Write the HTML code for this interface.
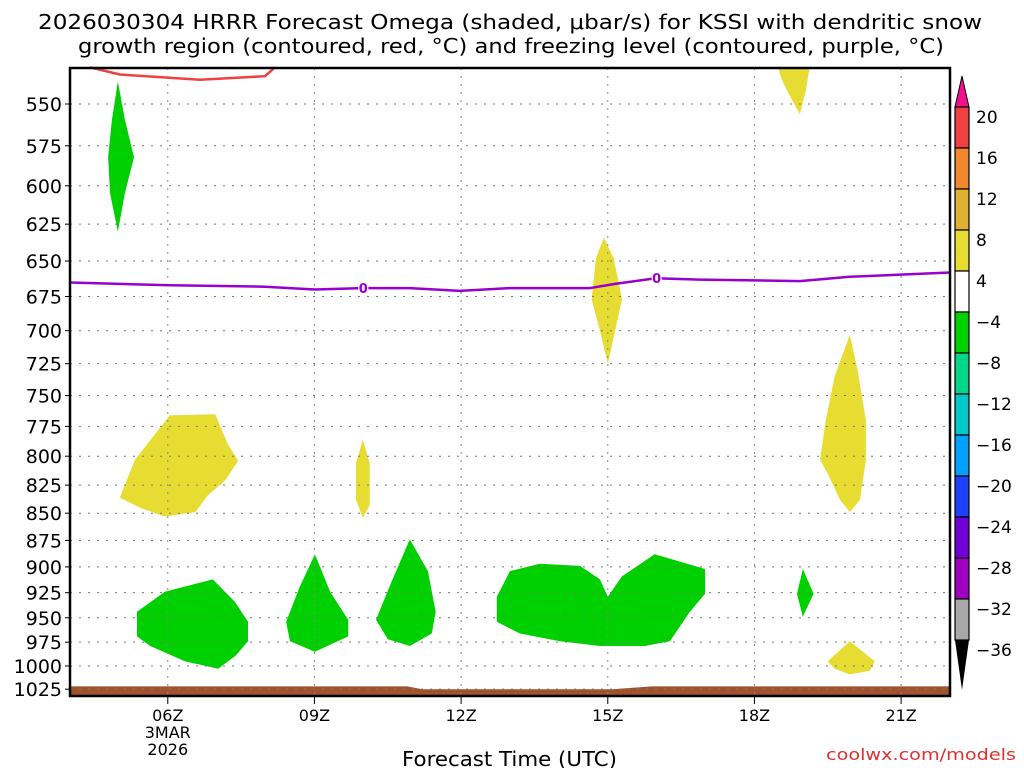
<!DOCTYPE html>
<html><head><meta charset="utf-8"><style>
body{margin:0;background:#fff;width:1024px;height:768px;overflow:hidden;font-family:"Liberation Sans","DejaVu Sans",sans-serif}
svg text{font-family:"DejaVu Sans","Liberation Sans",sans-serif}
</style></head><body>
<svg id="chart" width="1024" height="768" viewBox="0 0 1024 768">
<text x="38" y="29" textLength="944" lengthAdjust="spacingAndGlyphs" font-size="20">2026030304 HRRR Forecast Omega (shaded, μbar/s) for KSSI with dendritic snow</text>
<text x="78" y="53" textLength="866" lengthAdjust="spacingAndGlyphs" font-size="20">growth region (contoured, red, °C) and freezing level (contoured, purple, °C)</text>
<g id="plot"></g>
<g id="axes"></g>
<g id="cbar"></g>
<text x="402" y="766" textLength="215" lengthAdjust="spacingAndGlyphs" font-size="20">Forecast Time (UTC)</text>
<text x="826" y="760" textLength="190" lengthAdjust="spacingAndGlyphs" font-size="16" fill="#e03030">coolwx.com/models</text>
</svg>
<script>
const pLevels=[550,575,600,625,650,675,700,725,750,775,800,825,850,875,900,925,950,975,1000,1025];
const xTickHours=[6,9,12,15,18,21];
const xTickLabels=["06Z","09Z","12Z","15Z","18Z","21Z"];
const yellowA=[[5.02,836],[5.33,803],[6.04,766],[6.97,765],[7.23,790],[7.44,804],[7.17,821],[6.82,834],[6.56,849],[5.94,853],[5.43,845]];
const yellowB=[[9.99,786],[10.13,806],[10.13,843],[9.99,854],[9.85,838],[9.85,806]];
const yellowC=[[14.92,634],[15.12,648],[15.29,677],[15.15,700],[15.0,725],[14.84,700],[14.67,677],[14.76,648]];
const yellowD=[[18.48,529],[19.13,529],[19.05,542],[18.93,556],[18.72,545],[18.56,536]];
const yellowE=[[19.95,703],[20.11,730],[20.28,770],[20.28,803],[20.16,838],[19.95,849],[19.75,838],[19.5,815],[19.34,803],[19.46,770],[19.64,735]];
const yellowF=[[19.95,974],[20.46,995],[20.36,1005],[19.95,1009],[19.64,1003],[19.5,995]];
const greenA=[[4.98,537],[5.12,559],[5.31,582],[5.12,605],[4.98,630],[4.82,605],[4.78,582],[4.86,559]];
const greenB=[[5.37,944],[5.94,924],[6.92,912],[7.37,934],[7.64,954],[7.64,974],[7.39,989],[7.03,1003],[6.35,995],[5.64,979],[5.37,969]];
const greenC=[[9.01,888],[9.32,924],[9.69,952],[9.69,969],[9.01,985],[8.5,974],[8.42,954],[8.7,919]];
const greenD=[[10.95,874],[11.32,904],[11.48,944],[11.4,966],[10.95,979],[10.5,972],[10.26,952],[10.58,914]];
const greenE=[[13.0,904],[13.61,897],[14.43,899],[14.84,912],[15.0,929],[15.29,909],[15.96,888],[16.99,902],[16.99,926],[16.68,944],[16.27,974],[15.76,979],[14.84,979],[14.02,974],[13.2,966],[12.73,954],[12.73,929]];
const greenF=[[18.99,902],[19.21,926],[18.99,949],[18.87,926]];
const redLine=[[4.41,529],[5.02,533],[6.66,536],[7.99,534],[8.19,529]];
const purpleLine=[[4,665],[6.04,667],[7.99,668],[9.01,670],[9.97,669],[10.95,669],[11.98,671],[13.0,669],[14.63,669],[15.15,666],[15.98,662],[16.88,663],[18.93,664],[19.95,661],[22,658]];
const groundTop=[[4,1022],[10.9,1022],[11.2,1025],[15.1,1025],[15.9,1022],[22,1022]];
const cbarLabels=["20","16","12","8","4","−4","−8","−12","−16","−20","−24","−28","−32","−36"];
const cbarColors=["#f04040","#f08830","#e0b030","#e6dc32","#ffffff","#00d000","#00d68a","#00c8c8","#00a0ff","#2040ff","#7000d8","#a000c0","#a8a8a8"];

const NS="http://www.w3.org/2000/svg";
const L=70,R=950,T=68,B=696;
const X=h=>L+(h-4)*(R-L)/18;
const Y=p=>104+940*Math.log(p/550);
function mk(tag,attrs,parent){const e=document.createElementNS(NS,tag);for(const k in attrs)e.setAttribute(k,attrs[k]);parent.appendChild(e);return e;}
const plot=document.getElementById('plot'),axes=document.getElementById('axes'),cb=document.getElementById('cbar');
const pts=a=>a.map(d=>X(d[0]).toFixed(1)+','+Y(d[1]).toFixed(1)).join(' ');
{const g=mk('polygon',{points:pts(groundTop)+` ${R},${B} ${L},${B}`,fill:'#a0522d'},plot);

}
const shapes=[[yellowA,'#e6dc32','yellow-region-a'],[yellowB,'#e6dc32','yellow-region-b'],[yellowC,'#e6dc32','yellow-region-c'],[yellowD,'#e6dc32','yellow-region-d'],[yellowE,'#e6dc32','yellow-region-e'],[yellowF,'#e6dc32','yellow-region-f'],[greenA,'#00d000','green-region-a'],[greenB,'#00d000','green-region-b'],[greenC,'#00d000','green-region-c'],[greenD,'#00d000','green-region-d'],[greenE,'#00d000','green-region-e'],[greenF,'#00d000','green-region-f']];
shapes.forEach(s=>{const e=mk('polygon',{points:pts(s[0]),fill:s[1],'stroke-linejoin':'round'},plot);

});
pLevels.forEach(p=>{const y=Y(p);const e=mk('line',{x1:L,x2:R,y1:y,y2:y,stroke:'#777','stroke-dasharray':'2,7'},plot);

});
xTickHours.forEach(h=>{const e=mk('line',{x1:X(h),x2:X(h),y1:T,y2:B,stroke:'#888','stroke-dasharray':'2,6'},plot);

});
{const e=mk('polyline',{points:pts(redLine),fill:'none',stroke:'#f04040','stroke-width':2.5},plot);

}
{const e=mk('polyline',{points:pts(purpleLine),fill:'none',stroke:'#9a00cc','stroke-width':2.5},plot);

}
[[10,669],[16,662]].forEach((d,i)=>{const x=X(d[0]),y=Y(d[1]);
const r=mk('rect',{x:x-5,y:y-7,width:10,height:14,fill:'#fff'},plot);


const t=mk('text',{x:x,y:y+5,'text-anchor':'middle','font-size':13,'font-weight':'bold',fill:'#9a00cc'},plot);t.textContent='0';

});
{const e=mk('rect',{x:L,y:T,width:R-L,height:B-T,fill:'none',stroke:'#000','stroke-width':2.5},axes);

}
pLevels.forEach(p=>{const y=Y(p);mk('line',{x1:L-5,x2:L,y1:y,y2:y,stroke:'#000'},axes);
const t=mk('text',{x:L-8,y:y+7,'text-anchor':'end','font-size':19},axes);t.textContent=p;

});
xTickHours.forEach((h,i)=>{const x=X(h);mk('line',{x1:x,x2:x,y1:B,y2:B+8,stroke:'#000'},axes);
const t=mk('text',{x:x,y:B+25,'text-anchor':'middle','font-size':16},axes);t.textContent=xTickLabels[i];

});
['3MAR','2026'].forEach((s,i)=>{const t=mk('text',{x:X(6),y:B+42+i*17,'text-anchor':'middle','font-size':16},axes);t.textContent=s;

});
const cx=955,cw=14,ct=107,ch=41;
{const e=mk('polygon',{points:`${cx},${ct} ${cx+cw},${ct} ${cx+cw/2},${76}`,fill:'#f0108a',stroke:'#000'},cb);

}
cbarColors.forEach((c,i)=>{const e=mk('rect',{x:cx,y:ct+i*ch,width:cw,height:ch,fill:c,stroke:'#000','stroke-width':1.2},cb);

});
const cb0=ct+cbarColors.length*ch;
{const e=mk('polygon',{points:`${cx},${cb0} ${cx+cw},${cb0} ${cx+cw/2},${690}`,fill:'#000'},cb);

}
cbarLabels.forEach((s,i)=>{const t=mk('text',{x:976,y:ct+i*ch+16,'font-size':17},cb);t.textContent=s;

});
</script>
</body></html>
